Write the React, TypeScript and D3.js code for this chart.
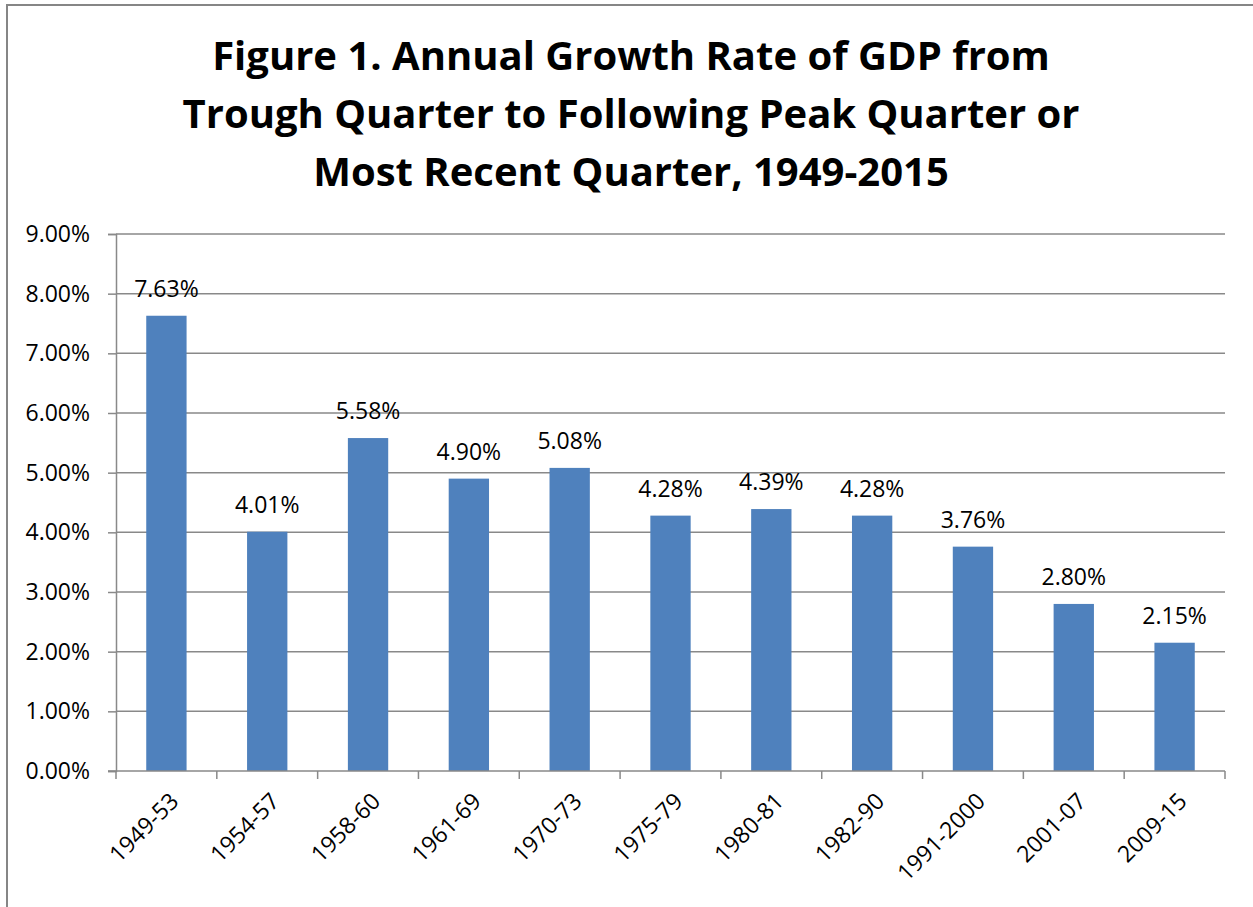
import React, { useEffect, useRef } from 'react';
import * as d3 from 'd3';

const categories: string[] = [
  '1949-53',
  '1954-57',
  '1958-60',
  '1961-69',
  '1970-73',
  '1975-79',
  '1980-81',
  '1982-90',
  '1991-2000',
  '2001-07',
  '2009-15',
];

const growthValues: number[] = [7.63, 4.01, 5.58, 4.9, 5.08, 4.28, 4.39, 4.28, 3.76, 2.8, 2.15];

const yTicks: number[] = [0, 1, 2, 3, 4, 5, 6, 7, 8, 9];

const titleLines: string[] = [
  'Figure 1. Annual Growth Rate of GDP from',
  'Trough Quarter to Following Peak Quarter or',
  'Most Recent Quarter, 1949-2015',
];

const App: React.FC = () => {
  const svgRef = useRef<SVGSVGElement | null>(null);

  useEffect(() => {
    if (!svgRef.current) return;

    const width = 1253;
    const height = 907;
    const plot = { left: 116, right: 1225, top: 234, bottom: 771 };
    const font = "'Open Sans', 'Liberation Sans', sans-serif";
    const gridColor = '#898989';
    const labelSize = '23px';

    const svg = d3.select(svgRef.current);
    svg.selectAll('*').remove();

    // outer chart border (runs off the right/bottom edge)
    svg
      .append('rect')
      .attr('x', 7)
      .attr('y', 5)
      .attr('width', width)
      .attr('height', height)
      .attr('fill', 'white')
      .attr('stroke', '#868686')
      .attr('stroke-width', 2);

    // Title
    svg
      .append('g')
      .selectAll('text')
      .data(titleLines)
      .enter()
      .append('text')
      .attr('x', 631)
      .attr('y', (_d, i) => 70 + i * 58)
      .attr('text-anchor', 'middle')
      .attr('font-family', font)
      .attr('font-weight', 'bold')
      .attr('font-size', '40px')
      .attr('fill', '#000')
      .text((d) => d);

    const xScale = d3
      .scaleBand<string>()
      .domain(categories)
      .range([plot.left, plot.right])
      .paddingInner(0.6)
      .paddingOuter(0.3);

    const yScale = d3.scaleLinear().domain([0, 9]).range([plot.bottom, plot.top]);

    // horizontal gridlines
    svg
      .append('g')
      .selectAll('line')
      .data(yTicks.filter((t) => t > 0))
      .enter()
      .append('line')
      .attr('x1', plot.left)
      .attr('x2', plot.right)
      .attr('y1', (d) => yScale(d))
      .attr('y2', (d) => yScale(d))
      .attr('stroke', gridColor)
      .attr('stroke-width', 1.5);

    // Bars
    svg
      .append('g')
      .selectAll('rect')
      .data(growthValues)
      .enter()
      .append('rect')
      .attr('x', (_d, i) => xScale(categories[i]) as number)
      .attr('y', (d) => yScale(d))
      .attr('width', xScale.bandwidth())
      .attr('height', (d) => yScale(0) - yScale(d))
      .attr('fill', '#4F81BD');

    // Data labels
    svg
      .append('g')
      .selectAll('text')
      .data(growthValues)
      .enter()
      .append('text')
      .attr('x', (_d, i) => (xScale(categories[i]) as number) + xScale.bandwidth() / 2)
      .attr('y', (d) => yScale(d) - 19)
      .attr('text-anchor', 'middle')
      .attr('font-family', font)
      .attr('font-size', labelSize)
      .attr('fill', '#000')
      .text((d) => `${d.toFixed(2)}%`);

    // Y axis
    const yAxis = svg
      .append('g')
      .attr('transform', `translate(${plot.left},0)`)
      .call(
        d3
          .axisLeft(yScale)
          .tickValues(yTicks)
          .tickSize(8)
          .tickPadding(18)
          .tickFormat((d) => `${(d as number).toFixed(2)}%`)
      );
    yAxis.select('.domain').attr('stroke', gridColor).attr('stroke-width', 1.5);
    yAxis.selectAll('line').attr('stroke', gridColor).attr('stroke-width', 1.5);
    yAxis
      .selectAll('text')
      .attr('fill', '#000')
      .attr('font-family', font)
      .attr('font-size', labelSize);

    // X axis line + tick marks at category boundaries
    const step = xScale.step();
    const boundaries = d3.range(categories.length + 1).map((i) => plot.left + i * step);
    const xAxis = svg.append('g');
    xAxis
      .append('line')
      .attr('x1', plot.left - 8)
      .attr('x2', plot.right)
      .attr('y1', plot.bottom)
      .attr('y2', plot.bottom)
      .attr('stroke', gridColor)
      .attr('stroke-width', 1.5);
    xAxis
      .selectAll('line.tick')
      .data(boundaries)
      .enter()
      .append('line')
      .attr('class', 'tick')
      .attr('x1', (d) => d)
      .attr('x2', (d) => d)
      .attr('y1', plot.bottom)
      .attr('y2', plot.bottom + 8)
      .attr('stroke', gridColor)
      .attr('stroke-width', 1.5);

    // rotated category labels
    xAxis
      .selectAll('text')
      .data(categories)
      .enter()
      .append('text')
      .attr('transform', (d) => {
        const cx = (xScale(d) as number) + xScale.bandwidth() / 2 + 8;
        return `translate(${cx},${plot.bottom + 26}) rotate(-45)`;
      })
      .attr('text-anchor', 'end')
      .attr('dy', '0.35em')
      .attr('font-family', font)
      .attr('font-size', labelSize)
      .attr('fill', '#000')
      .text((d) => d);
  }, []);

  return (
    <svg
      ref={svgRef}
      width={1253}
      height={907}
      style={{ position: 'absolute', left: 0, top: 0, background: 'white' }}
    />
  );
};

export default App;
